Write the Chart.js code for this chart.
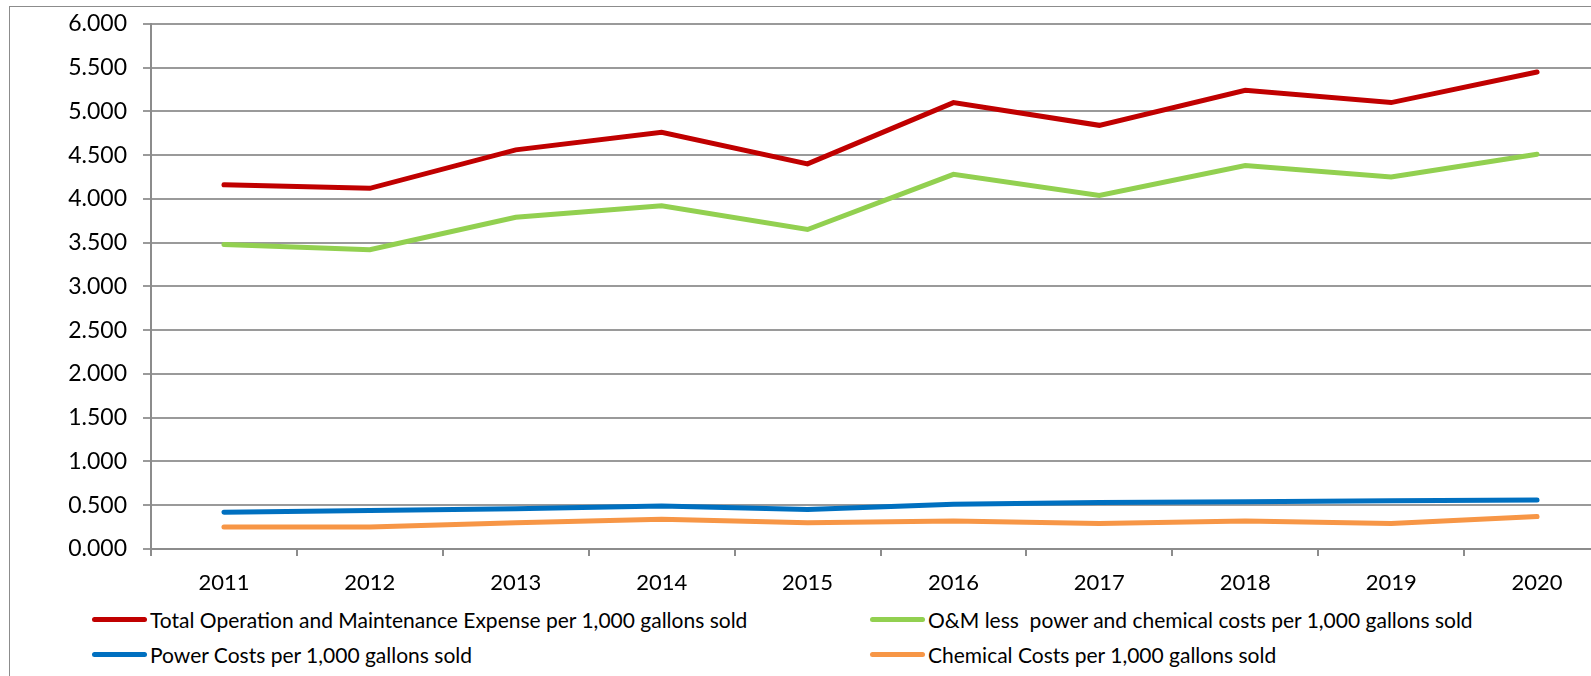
<!DOCTYPE html>
<html>
<head>
<meta charset="utf-8">
<script src="https://cdn.jsdelivr.net/npm/chart.js@4/dist/chart.umd.min.js"></script>
<style>
  html, body { margin: 0; padding: 0; background: #fff; overflow: hidden; width: 1591px; height: 676px; }
  #frame { position: absolute; left: 9px; top: 6px; width: 1700px; height: 700px; border: 1px solid #8c8c8c; }
  #chart { position: absolute; left: 0; top: -6px; }
  #legend { position: absolute; left: 92px; top: 607px; display: grid; grid-template-columns: 778px 700px; row-gap: 10px;
            font-family: Lato, "Open Sans", sans-serif; font-size: 21px; color: #000; }
  .item { display: flex; align-items: center; height: 25px; white-space: pre; }
  .swatch { width: 55px; height: 5px; border-radius: 3px; margin-right: 3px; }
</style>
</head>
<body>
<div id="frame"></div>
<canvas id="chart" width="1620" height="606"></canvas>
<div id="legend"></div>
<script>
// ==================== DATOS ====================
const years = ['2011', '2012', '2013', '2014', '2015', '2016', '2017', '2018', '2019', '2020'];
const totalOM = [4.16, 4.12, 4.56, 4.76, 4.40, 5.10, 4.84, 5.24, 5.10, 5.45];
const omLess = [3.48, 3.42, 3.79, 3.92, 3.65, 4.28, 4.04, 4.38, 4.25, 4.51];
const powerCosts = [0.42, 0.44, 0.46, 0.49, 0.45, 0.51, 0.53, 0.54, 0.55, 0.56];
const chemicalCosts = [0.25, 0.25, 0.30, 0.34, 0.30, 0.32, 0.29, 0.32, 0.29, 0.37];
const seriesLabels = [
  'Total Operation and Maintenance Expense per 1,000 gallons sold',
  'O&M less  power and chemical costs per 1,000 gallons sold',
  'Power Costs per 1,000 gallons sold',
  'Chemical Costs per 1,000 gallons sold'
];
const seriesColors = ['#C00000', '#92D050', '#0070C0', '#F79646'];

const FONT = 'Lato, "Open Sans", sans-serif';

const mkLine = (i, data) => ({
  label: seriesLabels[i],
  data,
  borderColor: seriesColors[i],
  backgroundColor: seriesColors[i],
  borderWidth: 5,
  borderCapStyle: 'round',
  pointRadius: 0,
  tension: 0,
  fill: false
});

const chart = new Chart(document.getElementById('chart'), {
  type: 'line',
  data: {
    labels: years,
    datasets: [
      mkLine(0, totalOM),
      mkLine(1, omLess),
      mkLine(2, powerCosts),
      mkLine(3, chemicalCosts)
    ]
  },
  options: {
    responsive: false,
    animation: false,
    devicePixelRatio: 1,
    layout: { padding: { top: 17, right: 10, left: 0, bottom: 0 } },
    plugins: { legend: { display: false }, tooltip: { enabled: false } },
    scales: {
      x: {
        offset: true,
        grid: { offset: true, drawOnChartArea: false, drawTicks: true, tickLength: 7, color: '#8c8c8c', lineWidth: 2 },
        border: { color: '#8c8c8c', width: 2 },
        ticks: { color: '#000', font: { family: FONT, size: 22 }, padding: 14, autoSkip: false, maxRotation: 0 },
        afterFit(scale) { scale.height = 51; }
      },
      y: {
        min: 0,
        max: 6,
        grid: { color: '#9a9a9a', lineWidth: 2, tickLength: 8 },
        border: { color: '#8c8c8c', width: 2 },
        ticks: {
          stepSize: 0.5,
          color: '#000',
          font: { family: FONT, size: 23 },
          padding: 16,
          callback: v => Number(v).toFixed(3)
        },
        afterFit(scale) { scale.width = 151; }
      }
    }
  }
});

// Leyenda en HTML, dos columnas
const $legend = document.getElementById('legend');
chart.data.datasets.forEach(ds => {
  $legend.innerHTML += `<div class="item"><span class="swatch" style="background:${ds.borderColor}"></span>${ds.label.replace(/&/g, '&amp;')}</div>`;
});
</script>
</body>
</html>
